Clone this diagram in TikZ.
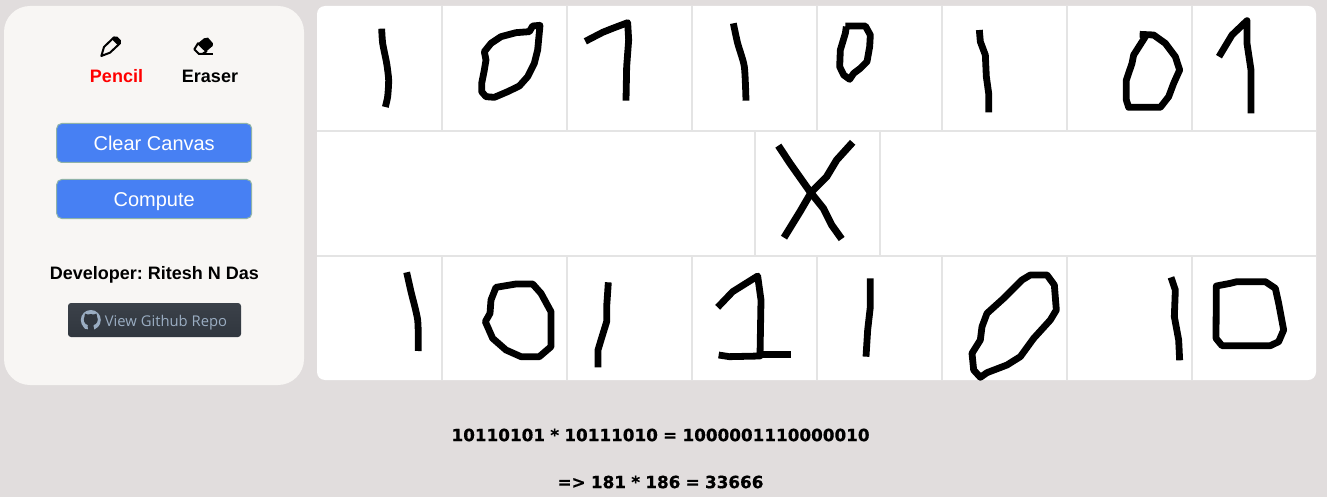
\documentclass[tikz,border=0pt]{standalone}
\usepackage{fontspec}
\setmainfont{Liberation Sans}
\newfontfamily\resultfont[BoldFeatures={FakeBold=0.5},WordSpace=0.9]{DejaVu Sans}
\newfontfamily\repofont{Open Sans}
\usepackage{xcolor}
\usetikzlibrary{positioning}
\definecolor{pagebg}{HTML}{E1DDDD}
\definecolor{panelbg}{HTML}{F8F6F4}
\definecolor{gridgray}{HTML}{E4E4E4}
\definecolor{btnblue}{HTML}{4780F3}
\definecolor{btnedge}{HTML}{8FB3A8}
\definecolor{repotop}{HTML}{3B4149}
\definecolor{repobot}{HTML}{30363E}
\definecolor{repotext}{HTML}{9AADC2}
\frenchspacing

\begin{document}
\begin{tikzpicture}[x=1pt,y=-1pt,every node/.style={inner sep=0pt},
  toollabel/.style={font=\fontsize{18}{22}\selectfont\bfseries},
  actionbtn/.style={draw=btnedge,fill=btnblue,rounded corners=5pt,line width=1pt,minimum width=195pt,minimum height=39pt,text=white,text height=14.3pt,text depth=0pt,font=\fontsize{20}{24}\selectfont},
  resultline/.style={font=\resultfont\fontsize{16.8}{20}\selectfont\bfseries},
  ink/.style={line width=6.8pt,line join=round,line cap=butt},
  cellline/.style={gridgray,line width=2pt}]
\useasboundingbox (0,0) rectangle (1327,497);
\fill[pagebg] (0,0) rectangle (1327,497);
% side panel
\fill[panelbg,rounded corners=26pt] (4,6) rectangle (304,385);
% pencil and eraser icons
\begin{scope}[shift={(0,0)},scale=0.33333]
\draw[black,line width=2pt,line join=round,fill=panelbg] (312,141)--(342,112)--(360,130)--(330,158)--(304,168)--cycle;
\fill[black] (342,110)--(352,110)--(363,121)--(362,130)--(354,136)--(336,118)--cycle;
\fill[black] (612,115)--(624,113)--(639,130)--(638,138)--(619,154)--(594,130)--cycle;
\draw[black,line width=2pt,line join=round,fill=panelbg] (594,130)--(619,154)--(607,162)--(597,162)--(583,148)--cycle;
\draw[black,line width=2pt] (597,163)--(640,163);
\end{scope}
\node[toollabel,text=red] (pencil) at (116.5,76) {Pencil};
\node[toollabel] (eraser) at (210,76) {Eraser};
\node[actionbtn] (clearcanvas) at (154.2,143) {Clear Canvas};
\node[actionbtn] (compute) at (154.2,199) {Compute};
\node[toollabel] (developer) at (154.5,274.5) {Developer: Ritesh N Das};
% github button
\node[rounded corners=3pt,top color=repotop,bottom color=repobot,minimum width=173pt,minimum height=34pt] (repobtn) at (154.5,320) {};
\node[text=repotext,font=\repofont\fontsize{14.8}{18}\selectfont] (repotxt) at (166,322.5) {View Github Repo};
\fill[repotext] (90.8,320) circle (10);
\fill[repobot] (85,313.5)--(87.5,314.5) .. controls (89.5,314) and (92,314) .. (94,314.5)--(96.5,313.5)--(97,316.5) .. controls (99,320) and (97,324.5) .. (93.5,325)--(94,330)--(87.5,330)--(87.8,325) .. controls (84.5,324.5) and (82.8,320) .. (84.5,316.5)--cycle;
\fill[repotext] (82.5,325.5) .. controls (84,328) and (85.5,327.5) .. (87.8,327.5)--(87.8,329)--(85,328.8)--cycle;
% canvas
\fill[white,rounded corners=8pt] (317,6) rectangle (1316,380);
\foreach \x in {442,567,692,817,942,1067,1192}{
  \draw[cellline] (\x,6)--(\x,131);
  \draw[cellline] (\x,256)--(\x,380);}
\foreach \x in {755,880}{\draw[cellline] (\x,131)--(\x,256);}
\foreach \y in {131,256}{\draw[cellline] (317,\y)--(1316,\y);}
% top row digits
\begin{scope}[shift={(316,0)},scale=0.33333]
\draw[ink] plot[smooth,tension=0.4] coordinates {(197,86)(200,130)(212,190)(218,240)(215,290)(208,321)};
\draw[ink] (672,76)--(650,78)--(640,95)--(600,98)--(555,110)--(525,130)--(505,155)--(510,180)--(505,210)--(497,250)--(497,275)--(510,290)--(535,292)--(575,275)--(610,258)--(635,230)--(655,190)--(665,150)--cycle;
\draw[ink] (808,124)--(860,97)--(890,85)--(935,68)--(938,120)--(932,200)--(930,302);
\draw[ink] plot[smooth,tension=0.4] coordinates {(1252,70)(1265,130)(1285,200)(1290,302)};
\end{scope}
\begin{scope}[shift={(817,0)},scale=0.33333]
\draw[ink] (85,78)--(145,78)--(160,105)--(158,140)--(150,185)--(130,205)--(110,220)--(98,238)--(80,225)--(68,200)--(70,150)--(85,100)--(88,80);
\draw[ink] (487,90)--(490,125)--(505,165)--(508,230)--(515,280)--(515,337);
\draw[ink] (968,103)--(1010,105)--(1045,130)--(1075,170)--(1088,210)--(1070,250)--(1055,290)--(1030,322)--(935,322)--(928,300)--(928,240)--(945,190)--(950,165)--(985,110);
\draw[ink] (1206,170)--(1245,105)--(1290,62)--(1290,130)--(1302,210)--(1302,340);
\end{scope}
% operator
\begin{scope}[shift={(740,125)},scale=0.33333]
\draw[ink,line width=7.2pt] (115,62)--(150,115)--(210,200)--(250,250)--(275,300)--(305,342);
\draw[ink,line width=7.2pt] (338,52)--(290,105)--(260,155)--(215,200)--(180,260)--(132,338);
\end{scope}
% bottom row digits
\begin{scope}[shift={(316,250)},scale=0.33333]
\draw[ink] plot[smooth,tension=0.4] coordinates {(272,67)(285,125)(305,210)(307,303)};
\draw[ink] (540,112)--(600,102)--(650,102)--(675,130)--(705,185)--(705,290)--(670,320)--(615,320)--(570,300)--(530,265)--(508,215)--(522,190)--(525,150)--cycle;
\draw[ink] (877,97)--(872,170)--(872,215)--(855,270)--(846,300)--(846,352);
\draw[ink] (1205,172)--(1250,125)--(1325,78)--(1335,150)--(1332,318)--(1240,320)--(1208,315);
\draw[ink] (1335,313)--(1424,313);
\end{scope}
\begin{scope}[shift={(817,250)},scale=0.33333]
\draw[ink] (160,85)--(160,170)--(152,240)--(147,320);
\draw[ink] (615,90)--(640,75)--(690,75)--(712,105)--(718,180)--(700,210)--(650,265)--(610,320)--(570,345)--(510,368)--(490,382)--(470,360)--(465,310)--(490,270)--(495,230)--(510,190)--(560,145)--cycle;
\draw[ink] (1062,82)--(1075,120)--(1072,200)--(1085,270)--(1088,331);
\draw[ink] (1198,108)--(1240,100)--(1260,95)--(1345,95)--(1375,115)--(1385,160)--(1400,240)--(1385,275)--(1360,287)--(1215,287)--(1197,265)--cycle;
\end{scope}
% result text
\node[resultline] (binaryline) at (660.5,435) {10110101 * 10111010 = 1000001110000010};
\node[resultline] (decimalline) at (660.5,482) {=> 181 * 186 = 33666};
\end{tikzpicture}
\end{document}
